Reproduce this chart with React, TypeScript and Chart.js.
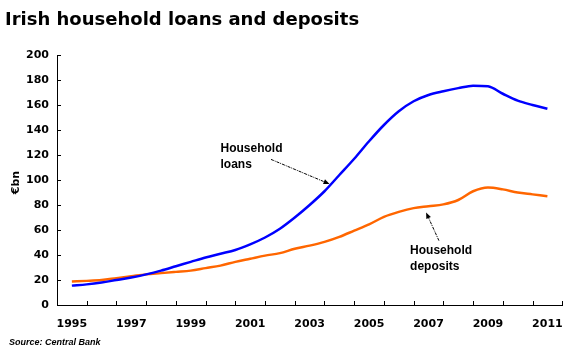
import React, { useEffect, useRef } from "react";
import { Chart, registerables } from "chart.js";

Chart.register(...registerables);

// Time points (year fractions, half-yearly)
const periods = [
  1995.5, 1996, 1996.5, 1997, 1997.5, 1998, 1998.5, 1999, 1999.5, 2000, 2000.5,
  2001, 2001.5, 2002, 2002.5, 2003, 2003.5, 2004, 2004.5, 2005, 2005.5, 2006,
  2006.5, 2007, 2007.5, 2008, 2008.5, 2009, 2009.5, 2010, 2010.5, 2011, 2011.5,
];

// Household loans, €bn
const loans = [
  15.5, 16.5, 18, 20, 22, 24.5, 27.5, 31, 34.5, 38, 41,
  44, 48.5, 54, 61, 70, 80, 91, 104, 117, 131, 144,
  155, 163, 168, 171, 173.5, 175.5, 175, 169, 163.5, 160, 157,
];

// Household deposits, €bn
const deposits = [
  18.8, 19.3, 20, 21.5, 23, 24.5, 25.5, 26.5, 27.5, 29.5, 31.5,
  34.5, 37, 39.5, 41.5, 45, 47.5, 50.5, 54.5, 59.5, 64.5, 70.5,
  74.5, 77.5, 79, 80.5, 84, 91, 94, 92.5, 90, 88.5, 87,
];

// x-axis labelled years (label sits in the middle of each year slot)
const labelYears = [1995, 1997, 1999, 2001, 2003, 2005, 2007, 2009, 2011];
const yTicks = [0, 20, 40, 60, 80, 100, 120, 140, 160, 180, 200];

const titleText = "Irish household loans and deposits";
const sourceText = "Source: Central Bank";
const yTitle = "€bn";

const loansLabel = ["Household", "loans"];
const depositsLabel = ["Household", "deposits"];

const BLUE = "#0000FF";
const ORANGE = "#FF6600";

const annotations = {
  id: "annotations",
  afterDraw(chart: any) {
    const ctx = chart.ctx;
    const xs = chart.scales.x;
    const ys = chart.scales.y;
    const area = chart.chartArea;
    ctx.save();
    // inward tick marks
    ctx.strokeStyle = "#000";
    ctx.lineWidth = 1;
    ctx.beginPath();
    for (let v = Math.ceil(xs.min); v <= xs.max; v++) {
      const px = Math.round(xs.getPixelForValue(v)) + 0.5;
      ctx.moveTo(px, area.bottom);
      ctx.lineTo(px, area.bottom - 4);
    }
    for (const t of yTicks) {
      const py = Math.round(ys.getPixelForValue(t)) + 0.5;
      ctx.moveTo(area.left, py);
      ctx.lineTo(area.left + 4, py);
    }
    ctx.stroke();

    // title
    ctx.fillStyle = "#000";
    ctx.textAlign = "left";
    ctx.textBaseline = "alphabetic";
    ctx.font = 'bold 18px "DejaVu Sans"';
    ctx.fillText(titleText, 5, 25);

    // source
    ctx.font = 'italic bold 9px "Liberation Sans"';
    ctx.fillText(sourceText, 9, 345);

    // y axis title
    ctx.save();
    ctx.translate(19, ys.getPixelForValue(98));
    ctx.rotate(-Math.PI / 2);
    ctx.textAlign = "center";
    ctx.font = 'bold 11px "DejaVu Sans"';
    ctx.fillText(yTitle, 0, 0);
    ctx.restore();

    // annotation labels
    const drawLabel = (lines: string[], xv: number, yv: number) => {
      ctx.font = 'bold 12px "Liberation Sans"';
      ctx.textAlign = "left";
      ctx.textBaseline = "top";
      const x = xs.getPixelForValue(xv);
      const y = ys.getPixelForValue(yv);
      lines.forEach((l, i) => ctx.fillText(l, x, y + i * 16));
    };
    drawLabel(loansLabel, 2000.5, 130);
    drawLabel(depositsLabel, 2006.88, 48.5);

    const drawArrow = (x1v: number, y1v: number, x2v: number, y2v: number) => {
      const x1 = xs.getPixelForValue(x1v);
      const y1 = ys.getPixelForValue(y1v);
      const x2 = xs.getPixelForValue(x2v);
      const y2 = ys.getPixelForValue(y2v);
      const ang = Math.atan2(y2 - y1, x2 - x1);
      const head = 6;
      ctx.save();
      ctx.strokeStyle = "#000";
      ctx.lineWidth = 1;
      ctx.setLineDash([3, 1, 1, 1]);
      ctx.beginPath();
      ctx.moveTo(x1, y1);
      ctx.lineTo(x2 - Math.cos(ang) * head, y2 - Math.sin(ang) * head);
      ctx.stroke();
      ctx.setLineDash([]);
      ctx.beginPath();
      ctx.moveTo(x2, y2);
      ctx.lineTo(
        x2 - head * Math.cos(ang) + 2.5 * Math.sin(ang),
        y2 - head * Math.sin(ang) - 2.5 * Math.cos(ang)
      );
      ctx.lineTo(
        x2 - head * Math.cos(ang) - 2.5 * Math.sin(ang),
        y2 - head * Math.sin(ang) + 2.5 * Math.cos(ang)
      );
      ctx.closePath();
      ctx.fill();
      ctx.restore();
    };
    drawArrow(2002.2, 116.5, 2004.17, 96.8);
    drawArrow(2007.85, 51.5, 2007.42, 74);

    ctx.restore();
  },
};

export default function App() {
  const ref = useRef<HTMLCanvasElement>(null);

  useEffect(() => {
    document.body.style.margin = "0";
    const canvas = ref.current;
    if (!canvas) return;
    const chart = new Chart(canvas, {
      type: "line",
      data: {
        datasets: [
          {
            label: "Household loans",
            data: periods.map((p, i) => ({ x: p, y: loans[i] })),
            borderColor: BLUE,
            borderWidth: 2.5,
            pointRadius: 0,
            cubicInterpolationMode: "monotone",
            fill: false,
          },
          {
            label: "Household deposits",
            data: periods.map((p, i) => ({ x: p, y: deposits[i] })),
            borderColor: ORANGE,
            borderWidth: 2.5,
            pointRadius: 0,
            cubicInterpolationMode: "monotone",
            fill: false,
          },
        ],
      },
      options: {
        animation: false,
        responsive: false,
        devicePixelRatio: 1,
        layout: { padding: { top: 55, right: 10, left: 0, bottom: 0 } },
        plugins: {
          legend: { display: false },
          title: { display: false },
          tooltip: { enabled: false },
        },
        scales: {
          x: {
            type: "linear",
            min: 1995,
            max: 2012,
            grid: { display: false, drawTicks: false },
            border: { display: true, color: "#000", width: 1 },
            afterBuildTicks: (scale: any) => {
              scale.ticks = labelYears.map((y) => ({ value: y + 0.5 }));
            },
            afterFit: (scale: any) => {
              scale.height = 50;
            },
            ticks: {
              autoSkip: false,
              maxRotation: 0,
              padding: 13,
              color: "#000",
              font: { family: "DejaVu Sans", weight: "bold", size: 11 },
              callback: (v: any) => String(Math.floor(Number(v))),
            },
          },
          y: {
            min: 0,
            max: 200,
            grid: { display: false, drawTicks: false },
            border: { display: true, color: "#000", width: 1 },
            afterFit: (scale: any) => {
              scale.width = 57;
            },
            ticks: {
              stepSize: 20,
              padding: 8,
              color: "#000",
              font: { family: "DejaVu Sans", weight: "bold", size: 11 },
            },
          },
        },
      },
      plugins: [annotations],
    } as any);
    return () => chart.destroy();
  }, []);

  return (
    <div style={{ width: 576, height: 355, position: "relative", background: "#fff" }}>
      <canvas ref={ref} width={576} height={355} />
    </div>
  );
}
